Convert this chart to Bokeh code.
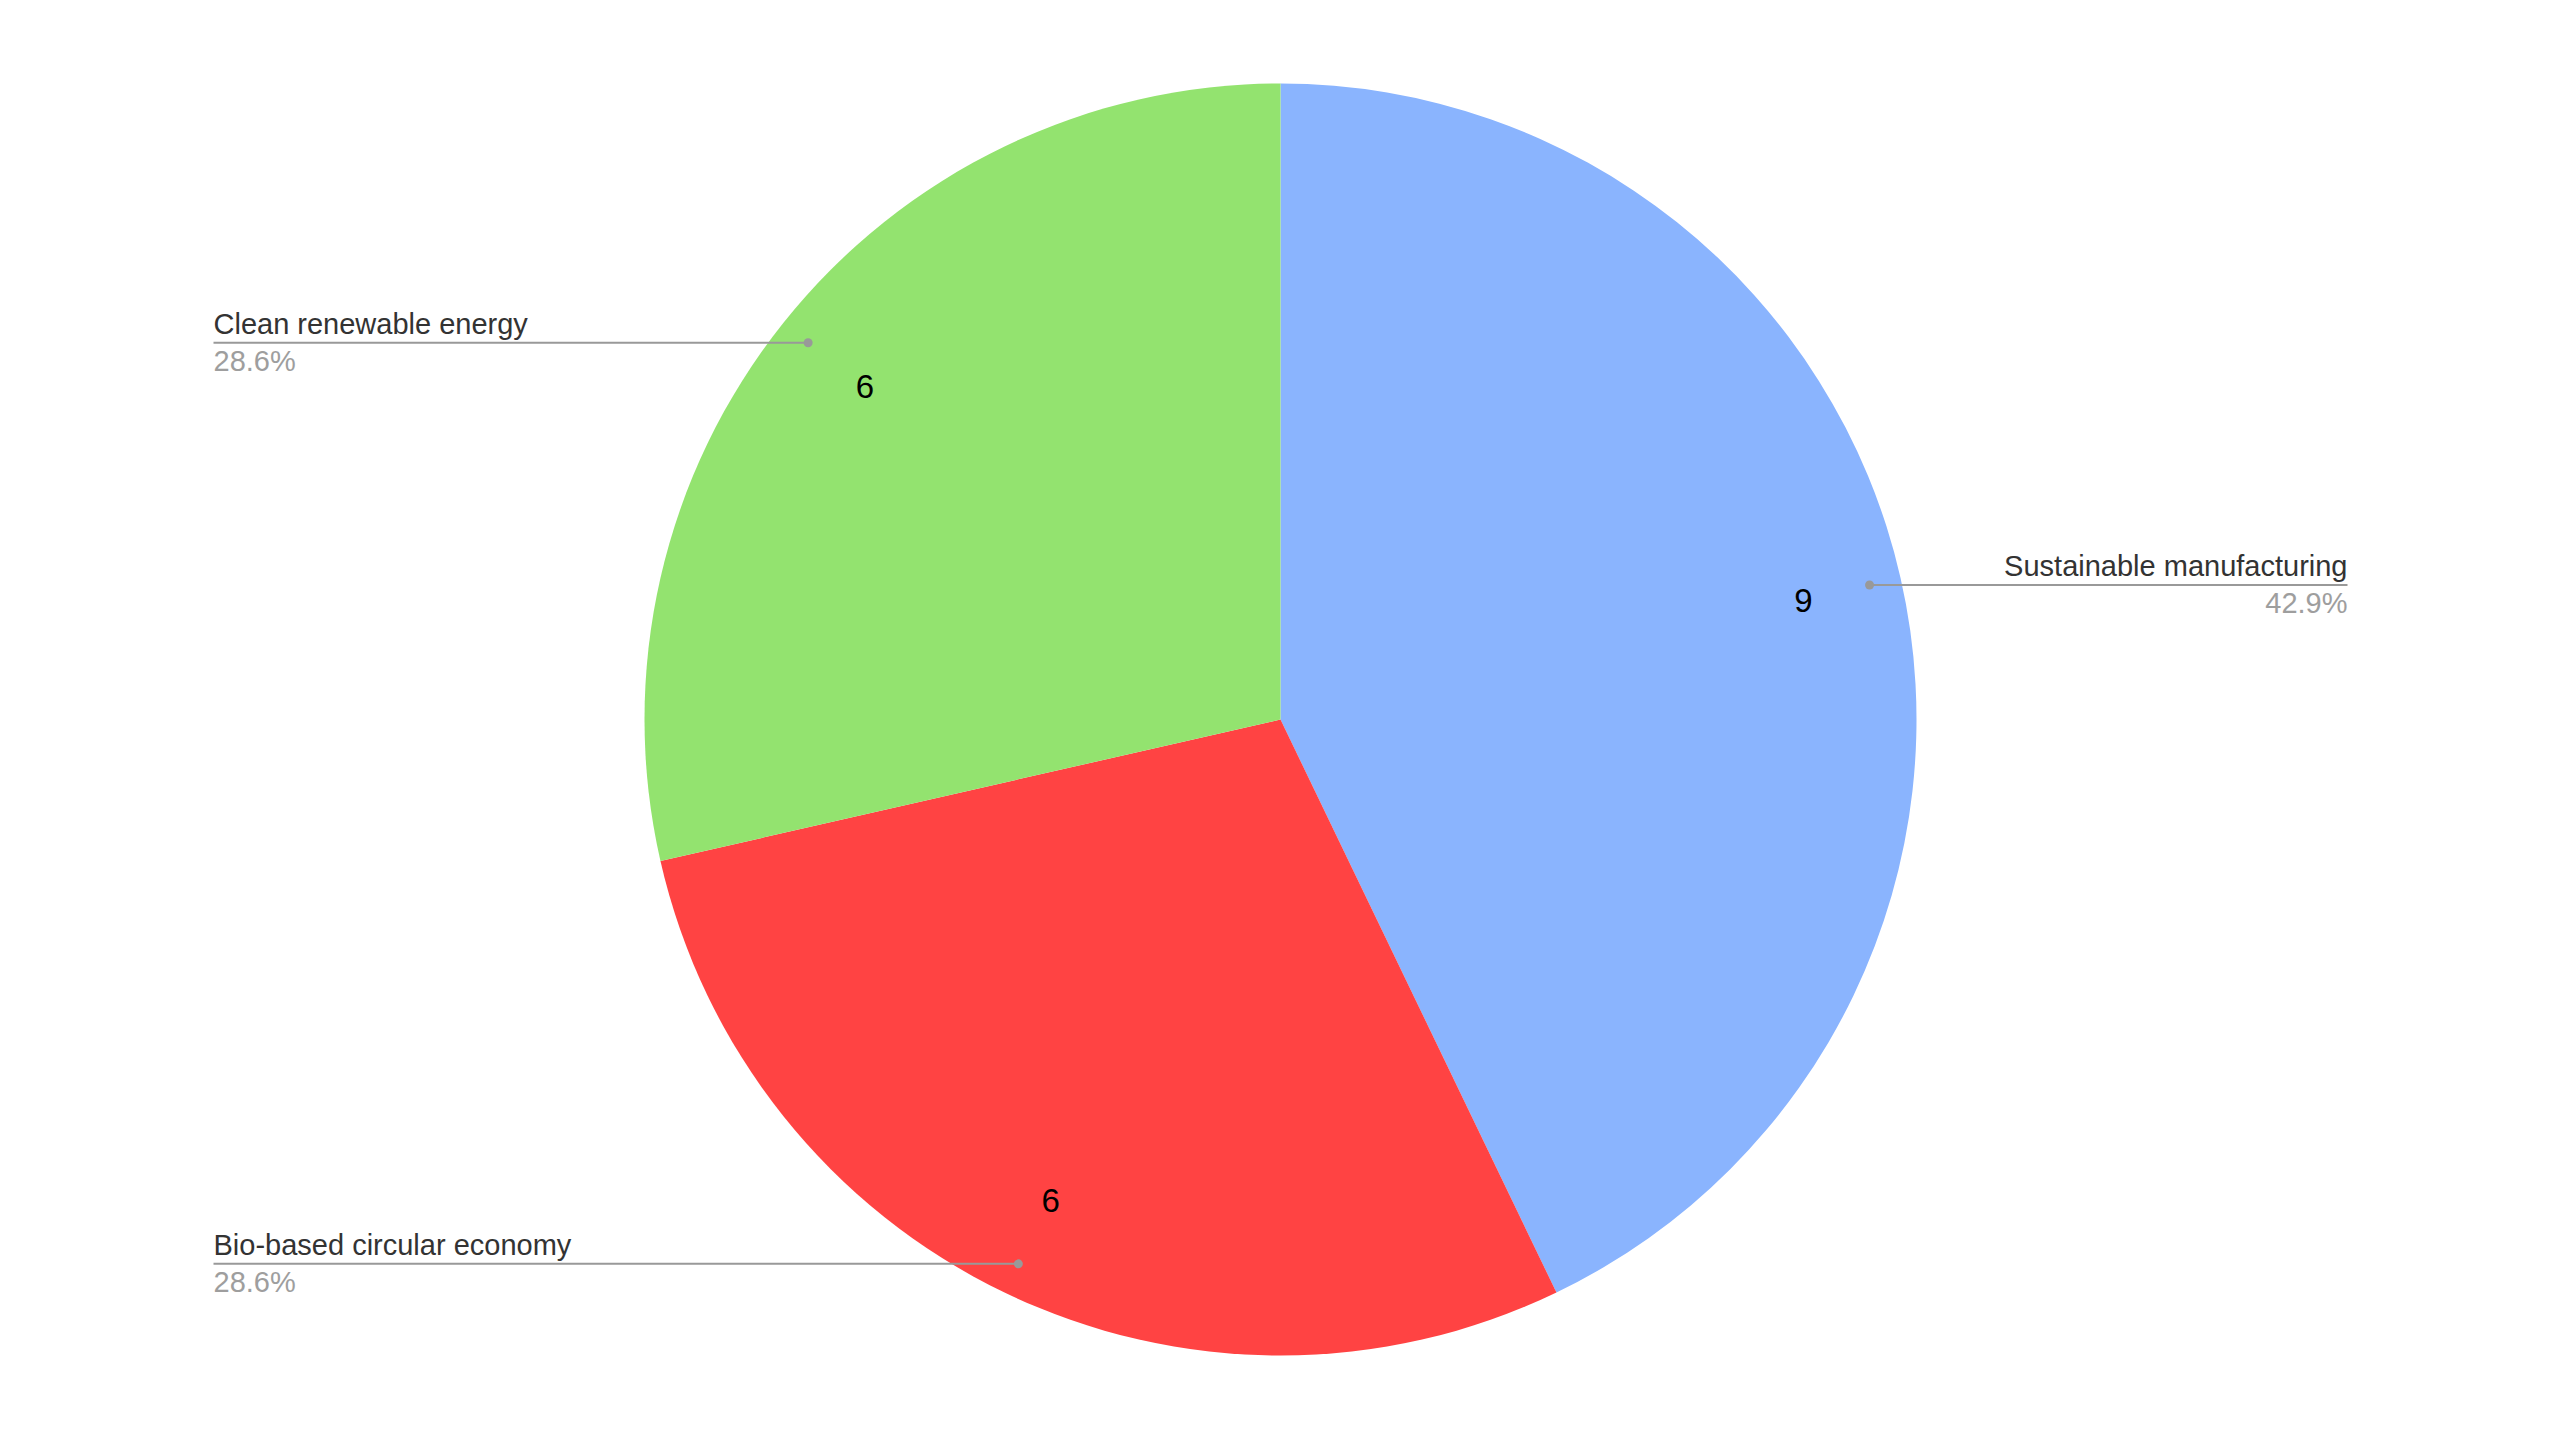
import math
from bokeh.plotting import figure
from bokeh.models import Range1d, ColumnDataSource
from bokeh.core.properties import value
from bokeh.embed import file_html
from bokeh.resources import INLINE

# ---- data ----
categories = ["Sustainable manufacturing", "Bio-based circular economy", "Clean renewable energy"]
values = [9, 6, 6]
colors = ["#8ab4fe", "#ff4343", "#93e36f"]

# ---- layout (page pixel coordinates; data y = 1440 - page y) ----
W, H = 2544, 1424
cx, cy_page, R = 1280, 719, 636
cy = 1440 - cy_page
left_x, right_x = 213, 2347
FONT = "Liberation Sans"
BL = 10  # baseline correction for svg text

p = figure(width=W, height=H, output_backend="svg", toolbar_location=None,
           x_range=Range1d(0, W), y_range=Range1d(1440 - H, 1440),
           min_border=0, outline_line_color=None)
p.axis.visible = False
p.grid.visible = False
p.background_fill_color = "white"
p.border_fill_color = "white"

total = sum(values)
starts, ends, mids = [], [], []
acc = 0.0
for v in values:
    s = math.pi / 2 - acc / total * 2 * math.pi
    e = s - v / total * 2 * math.pi
    starts.append(s); ends.append(e); mids.append((s + e) / 2)
    acc += v

src = ColumnDataSource(dict(start=starts, end=ends, color=colors))
p.wedge(x=cx, y=cy, radius=R, start_angle="start", end_angle="end",
        direction="clock", fill_color="color", line_color=None, source=src)

# value labels inside slices
lx = [cx + 0.84 * R * math.cos(m) + 2 for m in mids]
ly = [cy + 0.84 * R * math.sin(m) - 12 + BL + 2 for m in mids]
p.text(x=lx, y=ly, text=[str(v) for v in values], text_align="center",
       text_baseline="alphabetic", text_font=value(FONT), text_font_size="33px",
       text_color="#000000")

# callouts
for cat, v, m in zip(categories, values, mids):
    dx = cx + 0.95 * R * math.cos(m)
    dy = cy + 0.95 * R * math.sin(m)
    right = math.cos(m) > 0
    ex = right_x if right else left_x
    p.line([dx, ex], [dy, dy], line_color="#999999", line_width=2)
    p.scatter([dx], [dy], size=9, marker="circle", fill_color="#999999", line_color=None)
    align = "right" if right else "left"
    p.text(x=[ex], y=[dy + 9 + BL], text=[cat], text_align=align, text_baseline="alphabetic",
           text_font=value(FONT), text_font_size="29px", text_color="#333333")
    pct = f"{v / total * 100:.1f}%"
    p.text(x=[ex], y=[dy - 27 + BL - 1], text=[pct], text_align=align, text_baseline="alphabetic",
           text_font=value(FONT), text_font_size="29px", text_color="#9e9e9e")

open("out.html", "w").write(file_html(p, INLINE))
